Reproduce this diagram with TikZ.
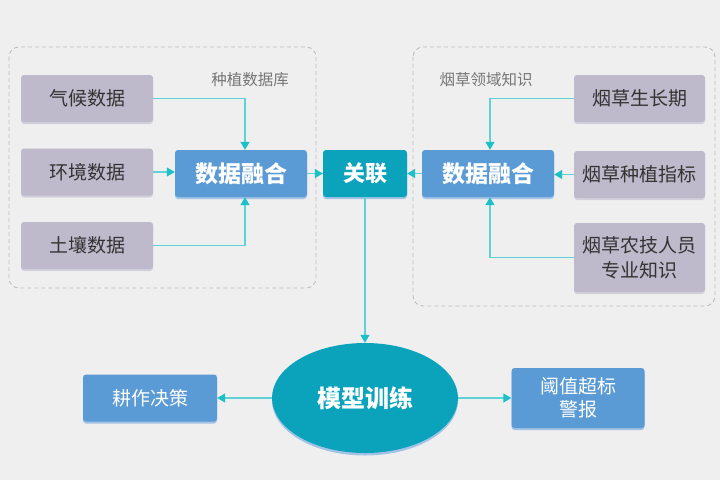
\documentclass[tikz,border=0pt]{standalone}
\usepackage{fontspec}
\setmainfont{Noto Sans CJK SC}
\usetikzlibrary{arrows.meta,shapes.geometric,shadows}
\definecolor{bg}{HTML}{EFEFEF}
\definecolor{graybox}{HTML}{BEB9CB}
\definecolor{grayshadow}{HTML}{D3D0DE}
\definecolor{bluebox}{HTML}{5B9BD5}
\definecolor{blueshadow}{HTML}{A3C3E6}
\definecolor{tealbox}{HTML}{0AA3BB}
\definecolor{arrline}{HTML}{5ED2D5}
\definecolor{arrtip}{HTML}{1DC0C7}
\definecolor{dashc}{HTML}{BDBDBD}
\definecolor{txtdark}{HTML}{333333}
\definecolor{txtlabel}{HTML}{767676}
\tikzset{
  srcbox/.style={draw=none, fill=graybox, rounded corners=3pt, text=txtdark,
    font=\fontsize{19}{23}\selectfont, align=center, inner sep=0pt,
    minimum width=132pt, minimum height=47pt,
    drop shadow={shadow xshift=0pt, shadow yshift=-2pt, fill=grayshadow, opacity=1}},
  fusebox/.style={draw=none, fill=bluebox, rounded corners=3pt, text=white,
    font=\fontsize{23}{27}\selectfont\bfseries, inner sep=0pt,
    minimum width=132pt, minimum height=47pt,
    drop shadow={shadow xshift=0pt, shadow yshift=-2pt, fill=blueshadow, opacity=1}},
  outbox/.style={draw=none, fill=bluebox, rounded corners=3pt, text=white,
    font=\fontsize{19}{23}\selectfont, align=center, inner sep=0pt,
    minimum width=133pt, minimum height=47pt,
    drop shadow={shadow xshift=0pt, shadow yshift=-2pt, fill=blueshadow, opacity=1}},
  linkbox/.style={draw=none, fill=tealbox, rounded corners=3pt, text=white,
    font=\fontsize{22}{26}\selectfont\bfseries, inner sep=0pt,
    minimum width=84pt, minimum height=47pt,
    drop shadow={shadow xshift=0pt, shadow yshift=-2pt, fill=blueshadow, opacity=1}},
  grouplabel/.style={text=txtlabel, font=\fontsize{15.5}{18}\selectfont, inner sep=0pt},
  grouparea/.style={draw=dashc, dashed, line width=0.9pt, rounded corners=10pt, dash pattern=on 4pt off 3pt},
  conn/.style={draw=arrline, line width=1.3pt, -{Triangle[length=8pt,width=9pt,color=arrtip]}},
}
\begin{document}
\begin{tikzpicture}[x=1pt,y=-1pt]
\fill[bg] (0,0) rectangle (720,480);
\useasboundingbox (0,0) rectangle (720,480);

% group areas
\draw[grouparea] (9,47) rectangle (316,288);
\draw[grouparea] (413,47) rectangle (715,306);
\node[grouplabel] (lbl1) at (250,80) {种植数据库};
\node[grouplabel] (lbl2) at (486,80) {烟草领域知识};

% left sources
\node[srcbox] (qh) at (87,98.5) {气候数据};
\node[srcbox] (hj) at (87,172) {环境数据};
\node[srcbox] (tr) at (87,245.5) {土壤数据};
\node[fusebox] (f1) at (241,173.5) {数据融合};

% link
\node[linkbox] (gl) at (365,173.5) {关联};

% right sources
\node[fusebox] (f2) at (488,173.5) {数据融合};
\node[srcbox, minimum width=131pt] (sz) at (639.5,98.5) {烟草生长期};
\node[srcbox, minimum width=131pt] (zb) at (639.5,174.5) {烟草种植指标};
\node[srcbox, minimum width=131pt, minimum height=69pt, font=\fontsize{19}{25}\selectfont] (nj) at (639.5,257.5) {烟草农技人员\\专业知识};

% model
\node[ellipse, fill=tealbox, minimum width=186pt, minimum height=110pt, inner sep=0pt,
  text=white, font=\fontsize{24}{28}\selectfont\bfseries,
  drop shadow={shadow xshift=0pt, shadow yshift=-2.5pt, fill=blueshadow, opacity=1}] (mx) at (365,398) {模型训练};

\node[outbox, minimum width=134pt] (gz) at (150,398) {耕作决策};
\node[outbox, minimum height=60pt] (yz) at (578,398) {阈值超标\\警报};

% connectors
\draw[conn] (qh.east) -| ([xshift=4pt]f1.north);
\draw[conn] (hj.east) -- (hj.east -| f1.west);
\draw[conn] (tr.east) -| ([xshift=4pt]f1.south);
\draw[conn] (f1.east) -- (gl.west);
\draw[conn] (f2.west) -- (gl.east);
\draw[conn] (sz.west) -| ([xshift=2pt]f2.north);
\draw[conn] (zb.west) -- (zb.west -| f2.east);
\draw[conn] (nj.west) -| ([xshift=2pt]f2.south);
\draw[conn] (gl.south) -- (gl.south |- mx.north);
\draw[conn] (mx.west) -- (mx.west -| gz.east);
\draw[conn] (mx.east) -- (mx.east -| yz.west);
\end{tikzpicture}
\end{document}
